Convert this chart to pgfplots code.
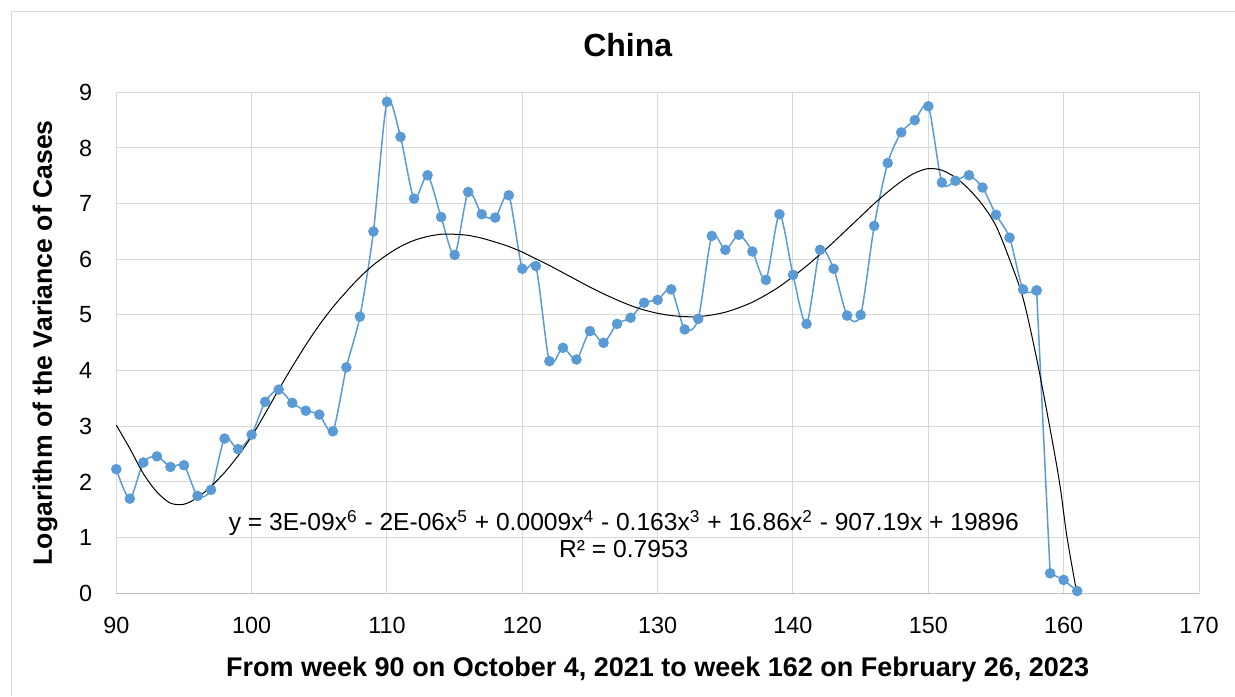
\documentclass[border=0pt]{standalone}
\usepackage{pgfplots}
\pgfplotsset{compat=1.18}
\usepackage{pgfplotstable}
\usepackage{fontspec}
\setmainfont{Liberation Sans}
\definecolor{ser}{HTML}{5B9BD5}
\definecolor{gridc}{HTML}{D9D9D9}
\definecolor{axc}{HTML}{BFBFBF}
\pgfplotstableread{
x y
90 2.23
91 1.70
92 2.35
93 2.46
94 2.27
95 2.30
96 1.75
97 1.86
98 2.78
99 2.59
100 2.85
101 3.44
102 3.66
103 3.42
104 3.28
105 3.21
106 2.91
107 4.06
108 4.97
109 6.50
110 8.83
111 8.20
112 7.09
113 7.51
114 6.76
115 6.08
116 7.21
117 6.81
118 6.75
119 7.15
120 5.83
121 5.88
122 4.17
123 4.41
124 4.20
125 4.71
126 4.50
127 4.84
128 4.95
129 5.22
130 5.27
131 5.46
132 4.74
133 4.93
134 6.42
135 6.17
136 6.44
137 6.14
138 5.63
139 6.81
140 5.72
141 4.84
142 6.17
143 5.83
144 4.99
145 5.00
146 6.60
147 7.73
148 8.28
149 8.50
150 8.75
151 7.38
152 7.41
153 7.51
154 7.29
155 6.80
156 6.39
157 5.46
158 5.44
159 0.36
160 0.24
161 0.04
}\china
\pgfplotstableread{
x y
90 3.02
91 2.60
92 2.15
93 1.82
94 1.62
95 1.60
96 1.72
97 1.92
98 2.17
99 2.47
100 2.82
101 3.23
102 3.66
103 4.07
104 4.46
105 4.82
106 5.14
107 5.42
108 5.68
109 5.90
110 6.08
111 6.23
112 6.34
113 6.41
114 6.45
115 6.45
116 6.43
117 6.38
118 6.31
119 6.23
120 6.13
121 6.01
122 5.89
123 5.76
124 5.63
125 5.50
126 5.38
127 5.27
128 5.17
129 5.09
130 5.03
131 4.99
132 4.97
133 4.97
134 5.00
135 5.05
136 5.13
137 5.23
138 5.36
139 5.51
140 5.69
141 5.88
142 6.09
143 6.31
144 6.54
145 6.77
146 7.00
147 7.21
148 7.40
149 7.55
150 7.63
151 7.60
152 7.47
153 7.26
154 6.98
155 6.60
156 6.00
157 5.30
158 4.22
159 2.95
159.7 1.98
160.24 1.02
160.93 0.06
}\trend
\begin{document}
\begin{tikzpicture}
\useasboundingbox (0,0) rectangle (617.5pt,348pt);
\draw[gridc, line width=0.5pt] (5.85pt,0) -- (5.85pt,342.15pt) -- (617.5pt,342.15pt);
\begin{axis}[
  at={(58.15pt,51.35pt)}, anchor=south west,
  scale only axis, width=541.35pt, height=250.5pt,
  xmin=90, xmax=170, ymin=0, ymax=9,
  xtick={90,100,...,170}, ytick={0,1,...,9},
  grid=major, grid style={gridc, line width=0.5pt},
  axis line style={gridc, line width=0.5pt},
  tick style={draw=none},
  clip=false,
  /pgf/number format/assume math mode=true,
  tick label style={font=\fontsize{11.7}{14}\selectfont},
  xticklabel shift=8.5pt, yticklabel shift=8.5pt,
  title={\textbf{China}},
  title style={font=\fontsize{16}{19}\selectfont, at={(axis description cs:0.4725,1.07)}, anchor=center},
  xlabel={From week 90 on October 4, 2021 to week 162 on February 26, 2023},
  xlabel style={font=\bfseries\fontsize{13.5}{16}\selectfont, at={(axis description cs:0.5,-0.153)}, anchor=center},
  ylabel={Logarithm of the Variance of Cases},
  ylabel style={font=\bfseries\fontsize{13.3}{16}\selectfont, at={(axis description cs:-0.0658,0.5)}, anchor=center},
]
\draw[axc, line width=0.6pt] (axis cs:90,0) -- (axis cs:170,0);
\addplot[ser, line width=0.75pt, smooth, tension=0.45, mark=*, mark size=2.25pt, mark options={fill=ser, draw=ser}, restrict x to domain=90:158] table[x=x,y=y] {\china};
\addplot[ser, line width=0.75pt, sharp plot, mark=*, mark size=2.25pt, mark options={fill=ser, draw=ser}, restrict x to domain=158:161] table[x=x,y=y] {\china};
\addplot[black, line width=0.5pt, smooth, tension=0.5, no marks] table[x=x,y=y] {\trend};
\node[font=\fontsize{12.3}{14}\selectfont, anchor=center] at (axis cs:127.5,1.26) {y = 3E-09x\textsuperscript{6} - 2E-06x\textsuperscript{5} + 0.0009x\textsuperscript{4} - 0.163x\textsuperscript{3} + 16.86x\textsuperscript{2} - 907.19x + 19896};
\node[font=\fontsize{12.3}{14}\selectfont, anchor=center] at (axis cs:127.5,0.79) {R² = 0.7953};
\end{axis}
\end{tikzpicture}
\end{document}
